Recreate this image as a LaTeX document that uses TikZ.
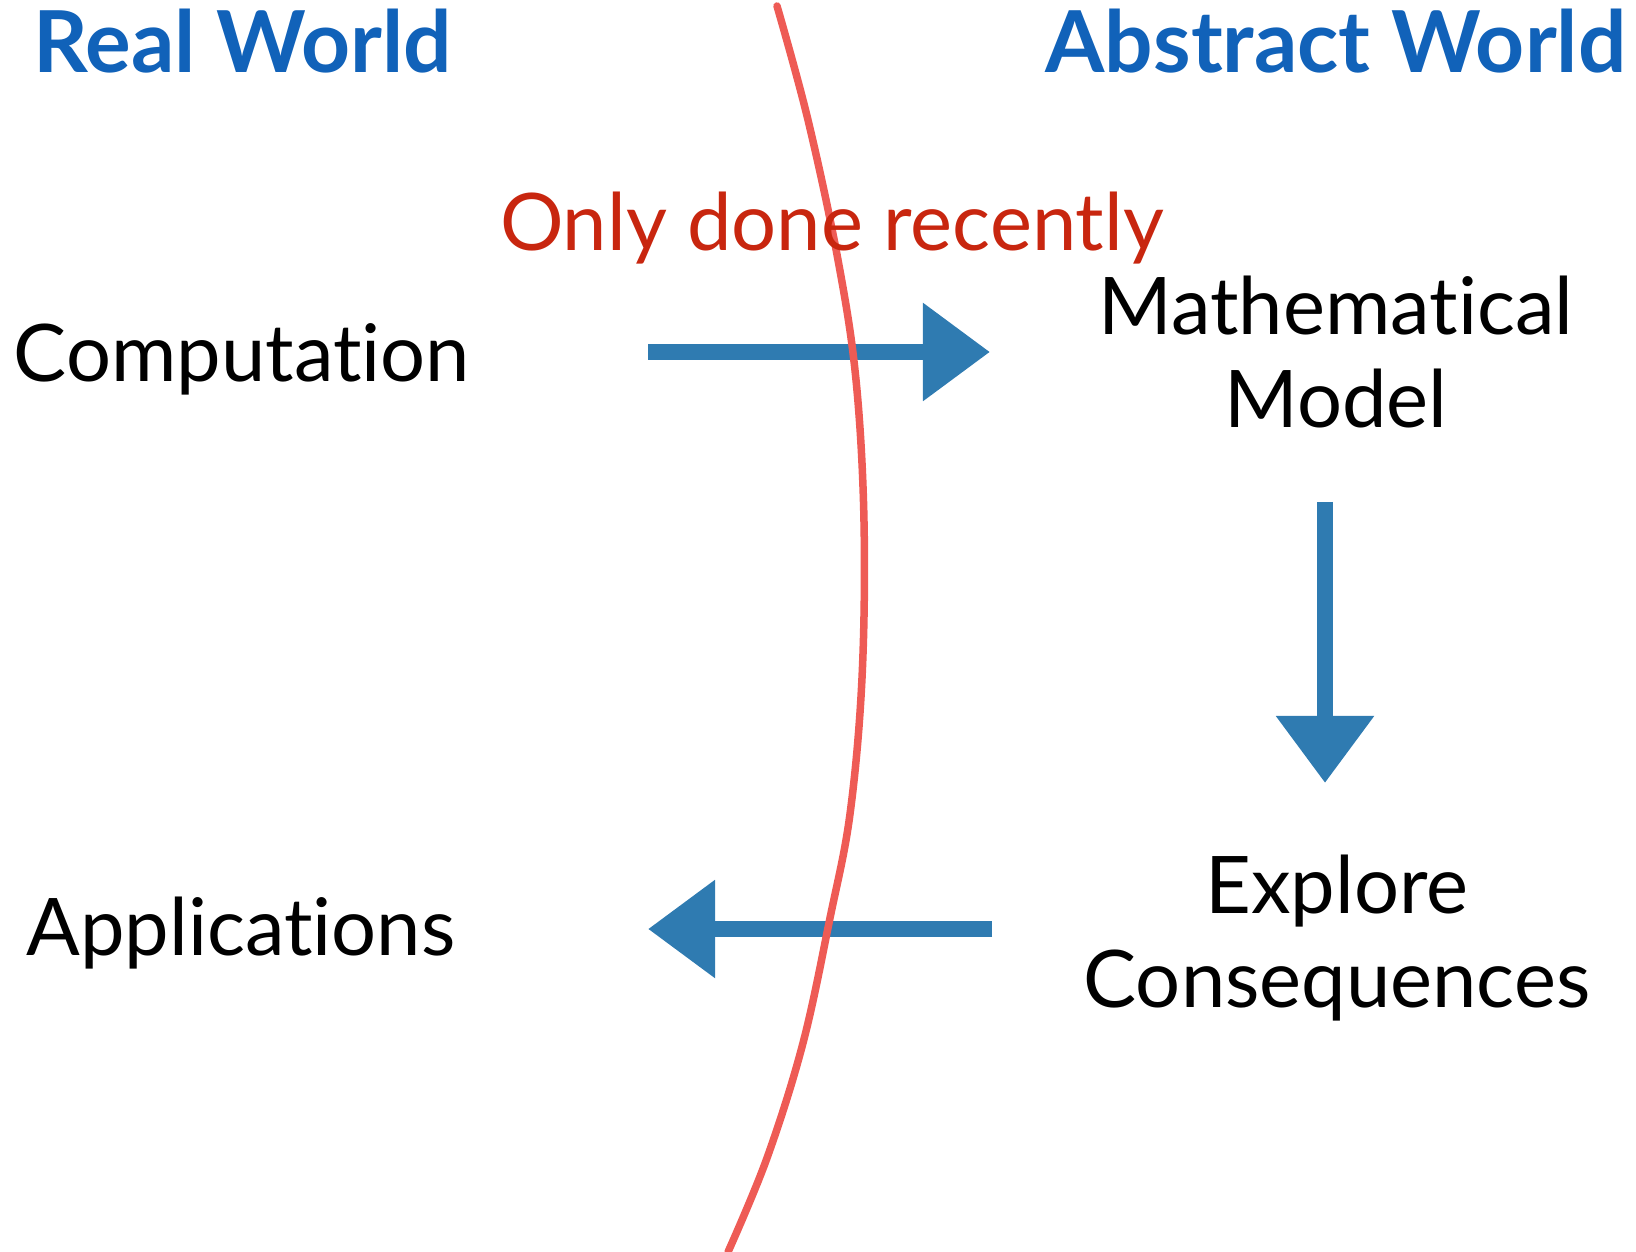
\documentclass[tikz,border=0pt]{standalone}
\usepackage{fontspec}
\setmainfont{Lato}[RawFeature=-liga]
\usetikzlibrary{arrows.meta}
\definecolor{titleblue}{HTML}{1162B9}
\definecolor{arrowblue}{HTML}{2F7BB1}
\definecolor{noteRed}{HTML}{C8260F}
\definecolor{lineRed}{HTML}{EE5B55}
\tikzset{
  label/.style={anchor=base, inner sep=0pt, align=center, font=\fontsize{22.6}{26.7}\selectfont},
  title/.style={label, text=titleblue, font=\fontsize{24.3}{26.7}\selectfont\bfseries},
  flow/.style={arrowblue, line width=0.16cm, -{Triangle[length=0.67cm, width=0.94cm]}}
}
\begin{document}
\begin{tikzpicture}[x=0.01cm, y=-0.01cm]
      \useasboundingbox (0,0) rectangle (1636,1252);
      \node[title] (real) at (243,73) {Real World};
      \node[title] (abstract) at (1336,73) {Abstract World};
      \node[label] (comp) at (242,382) {Computation};
      \node[label] (model) at (1336,428) {Mathematical\\Model};
      \node[label] (explore) at (1337,1007) {Explore\\Consequences};
      \node[label] (apps) at (241,955) {Applications};
      \coordinate (c1) at (648,352);  \coordinate (m1) at (990,352);
      \coordinate (m2) at (1325,502); \coordinate (e1) at (1325,783);
      \coordinate (e2) at (992,929);  \coordinate (a1) at (648,929);
      \draw[flow] (c1) -- (m1);
      \draw[flow] (m2) -- (e1);
      \draw[flow] (e2) -- (a1);
      \draw[lineRed, line width=0.075cm, line cap=round] plot[smooth, tension=0.6] coordinates
        {(777,6) (808,120) (838,260) (856,380) (864,522) (862,678) (850,814) (830,918) (803,1043) (767,1158) (728,1252)};
      \node[label, text=noteRed] (recent) at (832,251) {Only done recently};
    \end{tikzpicture}
\end{document}
